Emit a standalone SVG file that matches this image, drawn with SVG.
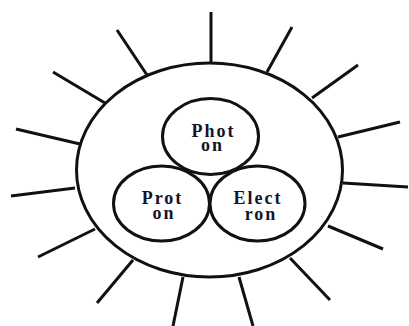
<svg xmlns="http://www.w3.org/2000/svg" width="409" height="326" viewBox="0 0 409 326">
<style>
.s{fill:none;stroke:#111;stroke-width:3}
.r{stroke:#111;stroke-width:3;stroke-linecap:butt}
.t{font-family:"Liberation Serif","Times New Roman",serif;font-weight:bold;font-size:18px;letter-spacing:2px;fill:#14142a;text-anchor:middle}
</style>
<rect width="409" height="326" fill="#fff"/>
<g id="rays">
<line class="r" x1="211" y1="12" x2="211" y2="63"/>
<line class="r" x1="117" y1="30" x2="147" y2="75"/>
<line class="r" x1="292" y1="27" x2="267" y2="72"/>
<line class="r" x1="53" y1="72" x2="105" y2="103"/>
<line class="r" x1="358" y1="65" x2="312" y2="98"/>
<line class="r" x1="16" y1="129" x2="80" y2="144"/>
<line class="r" x1="400" y1="122" x2="338" y2="137"/>
<line class="r" x1="11" y1="196" x2="75" y2="188"/>
<line class="r" x1="408" y1="187" x2="343" y2="183"/>
<line class="r" x1="38" y1="257" x2="95" y2="229"/>
<line class="r" x1="383" y1="249" x2="328" y2="226"/>
<line class="r" x1="97" y1="303" x2="133" y2="260"/>
<line class="r" x1="330" y1="300" x2="290" y2="258"/>
<line class="r" x1="173" y1="326" x2="183" y2="277"/>
<line class="r" x1="253" y1="326" x2="239" y2="277"/>
</g>
<g id="atom">
<ellipse class="s" cx="209.5" cy="170" rx="133" ry="107"/>
</g>
<g id="photon">
<ellipse class="s" cx="210.5" cy="136.5" rx="48" ry="38"/>
<text class="t" x="213.5" y="137">Phot</text>
<text class="t" x="212.5" y="151">on</text>
</g>
<g id="proton">
<ellipse class="s" cx="161.5" cy="203.5" rx="48" ry="37.5"/>
<text class="t" x="162.5" y="204">Prot</text>
<text class="t" x="164" y="219">on</text>
</g>
<g id="electron">
<ellipse class="s" cx="257.5" cy="203.5" rx="47.5" ry="37.5"/>
<text class="t" x="258" y="204">Elect</text>
<text class="t" x="261" y="220">ron</text>
</g>
</svg>
